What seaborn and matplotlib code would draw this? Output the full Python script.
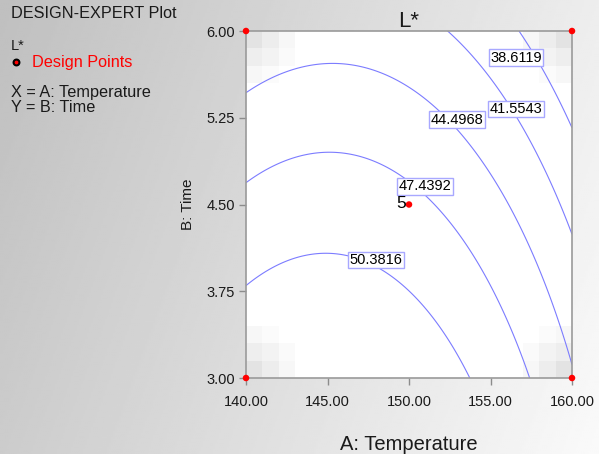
import numpy as np
import pandas as pd
import matplotlib
matplotlib.use("Agg")
import matplotlib.pyplot as plt
import seaborn as sns

# Factor ranges
temp_range = [140.0, 160.0]
time_range = [3.0, 6.0]
temp_ticks = [140.0, 145.0, 150.0, 155.0, 160.0]
time_ticks = [3.00, 3.75, 4.50, 5.25, 6.00]

# Quadratic model for L* in coded factors (A = temperature, B = time)
coef_names = ["b0", "A", "B", "A2", "B2", "AB"]
coef_values = [48.10, -3.66, -4.90, -3.66, -0.64, 0.28]

# Contour levels shown on the plot and where their labels sit
contour_levels = [38.6119, 41.5543, 44.4968, 47.4392, 50.3816]
label_temp = [156.56, 156.56, 152.94, 150.98, 147.98]
label_time = [5.767, 5.326, 5.231, 4.656, 4.020]

# Design points of the face-centred design (corners + replicated centre)
design_temp = [140.0, 140.0, 160.0, 160.0, 150.0]
design_time = [3.0, 6.0, 3.0, 6.0, 4.5]
design_reps = [1, 1, 1, 1, 5]

# Corner shading block (gray level), mirrored into each corner
corner_shade = [[0.894, 0.929, 0.965],
                [0.933, 0.953, 0.980],
                [0.965, 0.984, 1.000]]

sns.set_style("white")
plt.rcParams["font.family"] = ["Liberation Sans", "DejaVu Sans"]

W, H = 599, 454
fig = plt.figure(figsize=(W / 100, H / 100), dpi=100)

# Gray gradient backdrop
bg = fig.add_axes([0, 0, 1, 1], zorder=-10)
gx, gy = np.meshgrid(np.linspace(0, 1, 300), np.linspace(0, 1, 230))
grad = 0.75 + 0.18 * gx + 0.05 * gy
bg.imshow(grad, cmap="gray", vmin=0, vmax=1, extent=(0, 1, 0, 1),
          origin="upper", aspect="auto", interpolation="bilinear")
bg.set_axis_off()

ax = fig.add_axes([246 / W, 1 - 378 / H, 326 / W, 347 / H])
ax.set_facecolor("white")

# Shaded cells in the corners of the design space
n = 20
shade = np.ones((n, n))
cs = np.array(corner_shade)
k = cs.shape[0]
shade[:k, :k] = cs
shade[:k, -k:] = cs[:, ::-1]
shade[-k:, :k] = cs[::-1, :]
shade[-k:, -k:] = cs[::-1, ::-1]
ax.imshow(shade, cmap="gray", vmin=0, vmax=1, origin="upper",
          extent=(temp_range[0], temp_range[1], time_range[0], time_range[1]),
          aspect="auto", interpolation="nearest", zorder=0)

# Response surface
coef = dict(zip(coef_names, coef_values))
T = np.linspace(temp_range[0], temp_range[1], 300)
t = np.linspace(time_range[0], time_range[1], 300)
TT, tt = np.meshgrid(T, t)
a = (TT - 150.0) / 10.0
b = (tt - 4.5) / 1.5
L = (coef["b0"] + coef["A"] * a + coef["B"] * b + coef["A2"] * a ** 2
     + coef["B2"] * b ** 2 + coef["AB"] * a * b)

ax.contour(TT, tt, L, levels=contour_levels, colors="#7c7cff",
           linewidths=0.8, zorder=2)
for lev, lx, ly in zip(contour_levels, label_temp, label_time):
    ax.text(lx, ly, f"{lev:.4f}", fontsize=10.5, color="black",
            ha="center", va="center", zorder=5,
            bbox=dict(boxstyle="square,pad=0.1", facecolor="white",
                      edgecolor="#a8a8ff", linewidth=1.0))

# Design points
pts = pd.DataFrame({"Temperature": design_temp, "Time": design_time,
                    "reps": design_reps})
sns.scatterplot(data=pts, x="Temperature", y="Time", ax=ax, color="#ff0000",
                s=22, edgecolor="none", clip_on=False, zorder=10, legend=False)
for _, row in pts[pts["reps"] > 1].iterrows():
    ax.annotate(str(int(row["reps"])), (row["Temperature"], row["Time"]),
                xytext=(-2, 0.5), textcoords="offset points", ha="right",
                va="center", fontsize=12.5, color="black", zorder=10)

ax.set_xlim(temp_range)
ax.set_ylim(time_range)
ax.set_xticks(temp_ticks)
ax.set_yticks(time_ticks)
ax.set_xticklabels([f"{v:.2f}" for v in temp_ticks])
ax.set_yticklabels([f"{v:.2f}" for v in time_ticks])
ax.tick_params(axis="both", direction="out", length=5, width=1,
               color="#8c8c8c", labelsize=10.5, labelcolor="#1a1a1a",
               bottom=True, left=True)
ax.tick_params(axis="x", pad=7)
ax.tick_params(axis="y", pad=3)
for sp in ax.spines.values():
    sp.set_color("#9a9a9a")
    sp.set_linewidth(1.2)
    sp.set_visible(True)

ax.set_xlabel("A: Temperature", fontsize=14.5, color="#1a1a1a")
ax.xaxis.set_label_coords(0.5, (378 - 445) / 347)
ax.xaxis.label.set_va("center")
ax.set_ylabel("B: Time", fontsize=11, color="#1a1a1a")
ax.yaxis.set_label_coords((188 - 246) / 326, 0.5)
ax.yaxis.label.set_va("center")
ax.set_title("L*", fontsize=16, color="#1a1a1a", pad=3)

# Side panel
fig.text(11 / W, 1 - 13 / H, "DESIGN-EXPERT Plot", fontsize=11.7,
         va="center", ha="left", color="#1a1a1a")
fig.text(11 / W, 1 - 46 / H, "L*", fontsize=10.5, va="center", ha="left",
         color="#1a1a1a")
fig.text(32 / W, 1 - 62 / H, "Design Points", fontsize=11.7, va="center",
         ha="left", color="#ff0000")
fig.text(11 / W, 1 - 93 / H, "X = A: Temperature", fontsize=11.7,
         va="center", ha="left", color="#1a1a1a")
fig.text(11 / W, 1 - 108 / H, "Y = B: Time", fontsize=11.7, va="center",
         ha="left", color="#1a1a1a")
bg.scatter([16 / W], [1 - 62 / H], s=22, color="black", zorder=3)
bg.scatter([16 / W], [1 - 62 / H], s=3, color="#ff0000", zorder=4)
bg.set_xlim(0, 1)
bg.set_ylim(0, 1)

fig.savefig("out.png", dpi=100)
